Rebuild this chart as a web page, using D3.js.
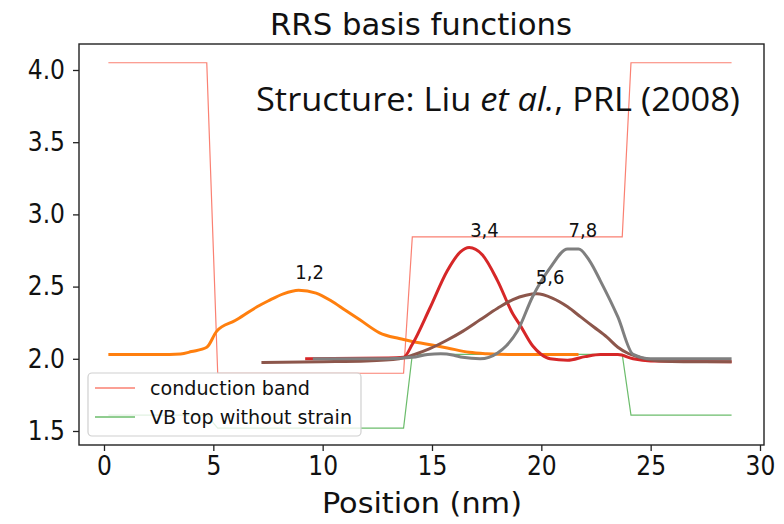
<!DOCTYPE html>
<html>
<head>
<meta charset="utf-8">
<script src="https://cdn.jsdelivr.net/npm/d3@7"></script>
<style>
  html, body { margin: 0; padding: 0; background: #fff; }
  svg { display: block; }
</style>
</head>
<body>
<svg id="chart" width="784" height="524"></svg>
<script>
// Band edges (eV) along the growth direction (nm)
const cbX = [0.2, 4.7, 5.2, 13.7, 14.1, 23.7, 24.1, 28.7];
const cbY = [4.05, 4.05, 1.90, 1.90, 2.845, 2.845, 4.05, 4.05];
const vbX = [0.2, 4.7, 5.2, 13.7, 14.1, 23.7, 24.1, 28.7];
const vbY = [1.61, 1.61, 1.52, 1.52, 2.03, 2.03, 1.61, 1.61];

// Basis functions (offset onto the energy axis)
const f12X = [0.2, 3.0, 3.5, 4.0, 4.7, 5.15, 6.0, 7.0, 7.5, 8.2, 8.9, 9.7, 10.4, 11.0, 11.7, 12.6, 13.5, 14.1, 15.0, 15.7, 16.7, 17.5, 18.5, 21.7];
const f12Y = [2.03, 2.03, 2.033, 2.05, 2.08, 2.19, 2.265, 2.36, 2.40, 2.45, 2.475, 2.455, 2.40, 2.34, 2.27, 2.18, 2.14, 2.12, 2.095, 2.075, 2.045, 2.035, 2.03, 2.03];

const f34X = [9.2, 13.0, 13.7, 14.1, 14.9, 15.7, 16.3, 16.7, 17.3, 18.0, 18.7, 19.0, 19.6, 20.0, 20.4, 21.2, 22.0, 22.7, 23.5, 24.2, 25.0, 28.7];
const f34Y = [2.0, 2.005, 2.01, 2.10, 2.35, 2.61, 2.74, 2.77, 2.72, 2.54, 2.31, 2.24, 2.09, 2.03, 2.0, 1.99, 2.015, 2.03, 2.03, 2.0, 1.985, 1.98];

const f56X = [7.2, 10.0, 12.0, 13.5, 14.2, 14.9, 15.7, 16.4, 17.2, 18.0, 18.7, 19.3, 19.8, 20.5, 21.2, 21.8, 22.4, 23.0, 23.5, 24.0, 24.5, 25.4, 26.5, 28.7];
const f56Y = [1.975, 1.98, 1.985, 2.0, 2.03, 2.07, 2.13, 2.19, 2.27, 2.35, 2.41, 2.44, 2.45, 2.42, 2.36, 2.29, 2.22, 2.15, 2.08, 2.035, 2.01, 1.985, 1.98, 1.98];

const f78X = [9.55, 13.0, 14.1, 14.8, 15.4, 16.0, 16.4, 17.2, 17.6, 18.0, 18.4, 18.9, 19.6, 20.4, 21.2, 21.7, 22.2, 22.7, 23.5, 24.2, 25.0, 28.7];
const f78Y = [2.0, 2.0, 2.01, 2.03, 2.035, 2.025, 2.01, 2.0, 2.01, 2.04, 2.09, 2.19, 2.43, 2.63, 2.76, 2.76, 2.68, 2.54, 2.29, 2.03, 2.0, 2.0];

// State labels and where they sit (data coordinates)
const stateLabels = ["1,2", "3,4", "7,8", "5,6"];
const stateLabelX = [9.4, 17.4, 21.9, 20.4];
const stateLabelY = [2.55, 2.84, 2.84, 2.52];

const xTicks = [0, 5, 10, 15, 20, 25, 30];
const yTicks = [1.5, 2.0, 2.5, 3.0, 3.5, 4.0];
const legendLabels = ["conduction band", "VB top without strain"];

const plot = { left: 79, right: 764, top: 44, bottom: 445 };

const x = d3.scaleLinear().domain([-1.143, 30.183]).range([plot.left, plot.right]);
const y = d3.scaleLinear().domain([1.403, 4.18]).range([plot.bottom, plot.top]);

const svg = d3.select("#chart");
const tickFont = "'DejaVu Sans Condensed', 'DejaVu Sans', sans-serif";

const zip = (xs, ys) => xs.map((v, i) => [v, ys[i]]);
const line = d3.line().x(d => x(d[0])).y(d => y(d[1]));
const smooth = d3.line().x(d => x(d[0])).y(d => y(d[1])).curve(d3.curveMonotoneX);

const clipId = "plot-clip";
svg.append("clipPath").attr("id", clipId)
  .append("rect")
  .attr("x", plot.left).attr("y", plot.top)
  .attr("width", plot.right - plot.left).attr("height", plot.bottom - plot.top);

const g = svg.append("g").attr("clip-path", `url(#${clipId})`);

// band edges
g.append("path").datum(zip(cbX, cbY))
  .attr("d", line).attr("fill", "none")
  .attr("stroke", "#fa8072").attr("stroke-width", 1.2);
g.append("path").datum(zip(vbX, vbY))
  .attr("d", line).attr("fill", "none")
  .attr("stroke", "#2ca02c").attr("stroke-opacity", 0.7).attr("stroke-width", 1.2);

// basis functions
const series = [
  { xs: f12X, ys: f12Y, color: "#ff7f0e" },
  { xs: f34X, ys: f34Y, color: "#d62728" },
  { xs: f56X, ys: f56Y, color: "#8c564b" },
  { xs: f78X, ys: f78Y, color: "#7f7f7f" }
];
series.forEach(s => {
  g.append("path").datum(zip(s.xs, s.ys))
    .attr("d", smooth).attr("fill", "none")
    .attr("stroke", s.color).attr("stroke-width", 3)
    .attr("stroke-linejoin", "round").attr("stroke-linecap", "butt");
});

// state labels
stateLabels.forEach((t, i) => {
  svg.append("text")
    .attr("x", x(stateLabelX[i])).attr("y", y(stateLabelY[i]))
    .attr("text-anchor", "middle")
    .attr("font-family", tickFont).attr("font-size", 20)
    .attr("fill", "#111").text(t);
});

// axes
const xAxis = svg.append("g")
  .attr("transform", `translate(0,${plot.bottom})`)
  .call(d3.axisBottom(x).tickValues(xTicks).tickFormat(d3.format("d")).tickSize(6).tickPadding(6));
const yAxis = svg.append("g")
  .attr("transform", `translate(${plot.left},0)`)
  .call(d3.axisLeft(y).tickValues(yTicks).tickFormat(d3.format(".1f")).tickSize(6).tickPadding(8));
[xAxis, yAxis].forEach(a => {
  a.select(".domain").remove();
  a.selectAll(".tick line").attr("stroke", "#222").attr("stroke-width", 1.3);
  a.selectAll(".tick text").attr("font-family", tickFont).attr("font-size", 26).attr("fill", "#111");
});

// frame
svg.append("rect")
  .attr("x", plot.left).attr("y", plot.top)
  .attr("width", plot.right - plot.left).attr("height", plot.bottom - plot.top)
  .attr("fill", "none").attr("stroke", "#222").attr("stroke-width", 1.4);

// legend
const leg = svg.append("g");
leg.append("rect")
  .attr("x", 88).attr("y", 373).attr("width", 273).attr("height", 63).attr("rx", 4)
  .attr("fill", "#fff").attr("fill-opacity", 0.8)
  .attr("stroke", "#d0d0d0").attr("stroke-width", 1.2);
const legColors = [["#fa8072", 1], ["#2ca02c", 0.7]];
const legWidths = [160, 202];
legendLabels.forEach((t, i) => {
  const ly = 388 + i * 29;
  leg.append("line").attr("x1", 95).attr("x2", 135).attr("y1", ly).attr("y2", ly)
    .attr("stroke", legColors[i][0]).attr("stroke-opacity", legColors[i][1]).attr("stroke-width", 1.3);
  leg.append("text").attr("x", 150).attr("y", ly + 7)
    .attr("font-family", tickFont).attr("font-size", 20).attr("fill", "#111")
    .attr("textLength", legWidths[i]).attr("lengthAdjust", "spacingAndGlyphs")
    .text(t);
});

// title, axis label, annotation
svg.append("text").attr("x", 421).attr("y", 35).attr("text-anchor", "middle")
  .attr("font-family", tickFont).attr("font-size", 31).attr("fill", "#111")
  .attr("textLength", 302).attr("lengthAdjust", "spacingAndGlyphs")
  .text("RRS basis functions");
svg.append("text").attr("x", 422).attr("y", 513).attr("text-anchor", "middle")
  .attr("font-family", tickFont).attr("font-size", 29).attr("fill", "#111")
  .attr("textLength", 200).attr("lengthAdjust", "spacingAndGlyphs")
  .text("Position (nm)");

const ann = svg.append("text").attr("x", 256).attr("y", 111)
  .attr("font-family", "'Open Sans', 'Noto Sans', sans-serif").attr("font-size", 32).attr("fill", "#111")
  .attr("textLength", 484).attr("lengthAdjust", "spacingAndGlyphs");
ann.append("tspan").text("Structure: Liu ");
ann.append("tspan").attr("font-style", "italic").text("et al.");
ann.append("tspan").text(", PRL (2008)");
</script>
</body>
</html>
